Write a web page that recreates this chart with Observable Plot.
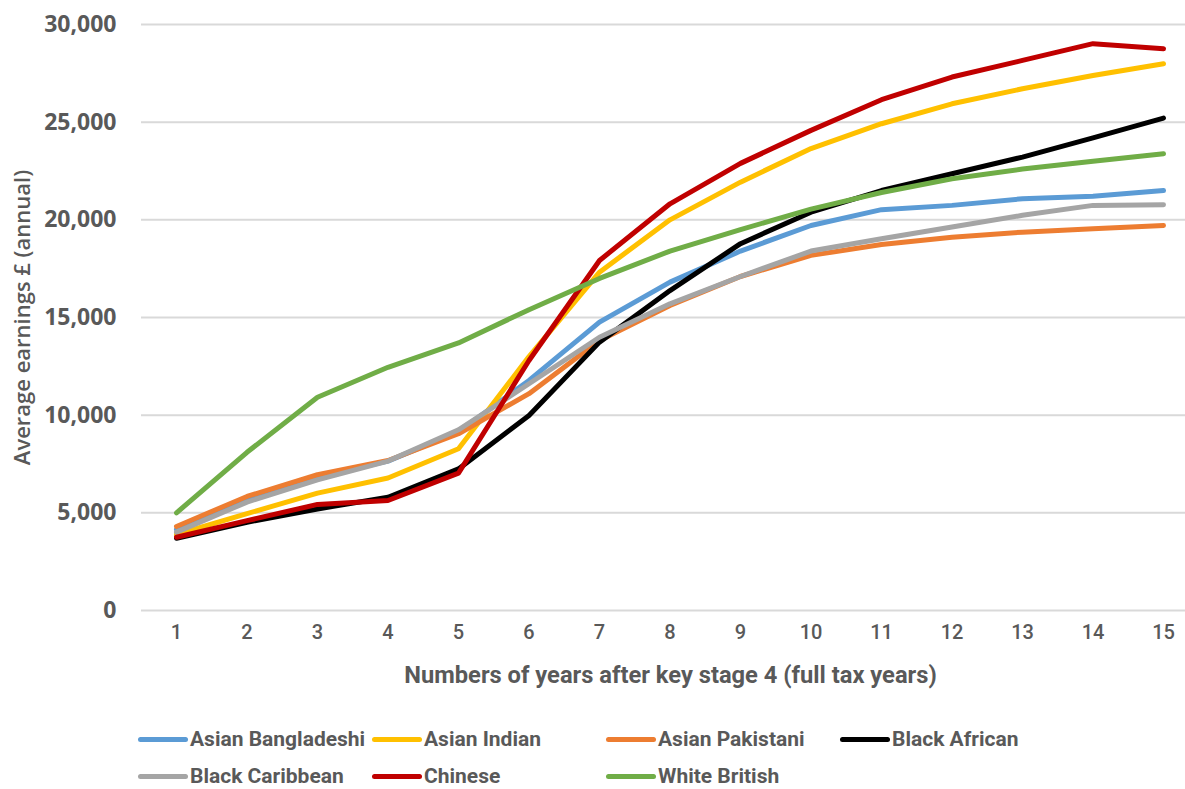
<!DOCTYPE html>
<html>
<head>
<meta charset="utf-8">
<script src="https://cdn.jsdelivr.net/npm/d3@7"></script>
<script src="https://cdn.jsdelivr.net/npm/@observablehq/plot@0.6"></script>
<style>
  html, body { margin: 0; padding: 0; background: #fff; }
  #wrap { position: relative; width: 1185px; height: 789px; overflow: hidden; }
  #legend {
    position: absolute; left: 138px; top: 731px; width: 936px;
    display: flex; flex-wrap: wrap; row-gap: 21px;
    font-family: Roboto, sans-serif;
    font-size: 21px; font-weight: 700; color: #595959; white-space: nowrap;
  }
  .item { width: 234px; height: 16px; line-height: 16px; display: flex; align-items: center; }
  .swatch { width: 50px; height: 5px; border-radius: 3px; margin-right: 2px; flex: none; }
</style>
</head>
<body>
<div id="wrap">
  <div id="chart"></div>
  <div id="legend"></div>
</div>
<script>
// Average annual earnings by ethnic group, years 1–15 after key stage 4
const years = [1, 2, 3, 4, 5, 6, 7, 8, 9, 10, 11, 12, 13, 14, 15];
const groups = ["Asian Bangladeshi", "Asian Indian", "Asian Pakistani", "Black African", "Black Caribbean", "Chinese", "White British"];
const colors = ["#5B9BD5", "#FFC000", "#ED7D31", "#000000", "#A5A5A5", "#C00000", "#70AD47"];

const asianBangladeshi = [4150, 5680, 6830, 7650, 9150, 11780, 14760, 16810, 18400, 19710, 20520, 20740, 21080, 21210, 21500];
const asianIndian      = [3890, 4960, 6010, 6780, 8280, 13000, 17320, 20000, 21930, 23650, 24920, 25940, 26710, 27390, 27990];
const asianPakistani   = [4300, 5840, 6950, 7680, 9050, 11100, 13820, 15620, 17100, 18180, 18740, 19110, 19370, 19540, 19710];
const blackAfrican     = [3700, 4520, 5200, 5800, 7250, 9980, 13740, 16380, 18780, 20390, 21500, 22360, 23210, 24200, 25210];
const blackCaribbean   = [4010, 5550, 6690, 7650, 9250, 11610, 13990, 15700, 17100, 18400, 19030, 19630, 20230, 20740, 20770];
const chinese          = [3750, 4600, 5430, 5630, 7030, 12800, 17920, 20820, 22890, 24580, 26150, 27310, 28160, 29020, 28760];
const whiteBritish     = [5000, 8100, 10920, 12450, 13700, 15400, 17000, 18400, 19500, 20550, 21400, 22100, 22600, 23000, 23380];

const yTicks = [0, 5000, 10000, 15000, 20000, 25000, 30000];
const xTitle = "Numbers of years after key stage 4 (full tax years)";
const yTitle = "Average earnings £ (annual)";

const seriesValues = [asianBangladeshi, asianIndian, asianPakistani, blackAfrican, blackCaribbean, chinese, whiteBritish];
const rows = groups.flatMap((g, k) => seriesValues[k].map((v, i) => ({group: g, year: years[i], earnings: v})));

const narrow = "Roboto, sans-serif";
const grey = "#595959";

const chart = Plot.plot({
  width: 1185,
  height: 695,
  marginTop: 24,
  marginBottom: 85,
  marginLeft: 141,
  marginRight: 0,
  style: {background: "#fff"},
  x: {domain: [0.5, 15.5], range: [140.75, 1198.25]},
  y: {domain: [0, 30000]},
  color: {domain: groups, range: colors},
  marks: [
    Plot.ruleY(yTicks, {stroke: "#d9d9d9", strokeWidth: 2}),
    Plot.axisY({ticks: yTicks, tickFormat: d3.format(","), tickSize: 0, tickPadding: 25, label: null,
      fontSize: 23, fontWeight: "bold", fontFamily: "'Open Sans', sans-serif", color: grey}),
    Plot.axisX({ticks: years, tickFormat: d => String(d), tickSize: 0, tickPadding: 14, label: null,
      fontSize: 20, fontWeight: 500, fontFamily: narrow, color: grey}),
    Plot.lineY(rows, {x: "year", y: "earnings", z: "group", stroke: "group", strokeWidth: 5,
      strokeLinejoin: "round", strokeLinecap: "round"}),
    Plot.text([xTitle], {frameAnchor: "bottom", dy: 65, dx: 7, lineAnchor: "middle",
      fontSize: 23.7, fontWeight: 700, fontFamily: narrow, fill: grey}),
    Plot.text([yTitle], {frameAnchor: "left", dx: -119, rotate: -90, lineAnchor: "middle", textAnchor: "middle",
      fontSize: 22, fontWeight: 600, fontFamily: "'Open Sans', sans-serif", fill: grey})
  ]
});
document.getElementById("chart").append(chart);

const legend = document.getElementById("legend");
groups.forEach((g, k) => {
  const item = document.createElement("div");
  item.className = "item";
  const sw = document.createElement("span");
  sw.className = "swatch";
  sw.style.background = colors[k];
  const label = document.createElement("span");
  label.textContent = g;
  item.append(sw, label);
  legend.append(item);
});
</script>
</body>
</html>
